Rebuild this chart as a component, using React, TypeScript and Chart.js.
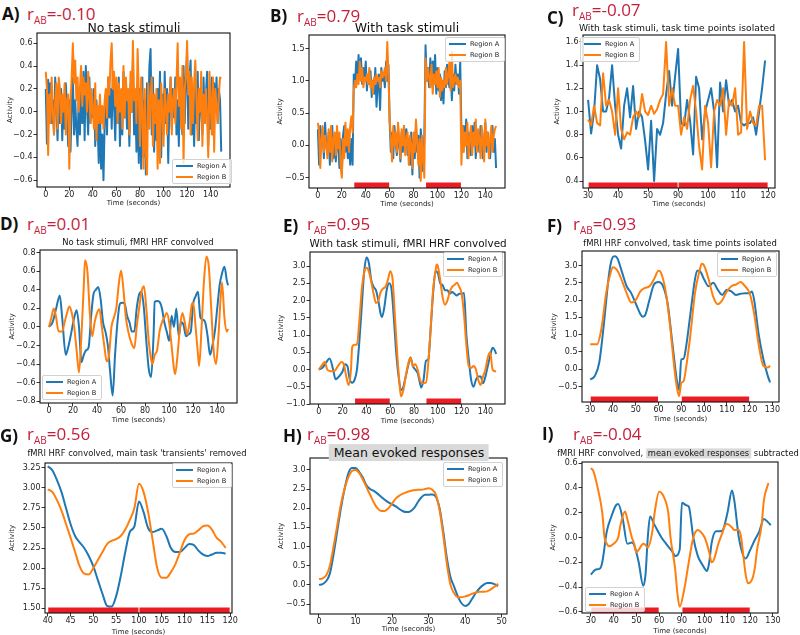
import React, { useEffect, useRef } from 'react';
import { Chart, registerables } from 'chart.js';

Chart.register(...registerables);
Chart.defaults.font.family = '"DejaVu Sans", sans-serif';

// ---------------- data ----------------
// Panel A: no task stimuli (time 0..149 s)
const panelA_regionA = [
  0.2, -0.28, 0.28, 0.15, 0.25, -0.1, 0.1, -0.2, 0.3, 0.05,
  -0.25, 0.15, -0.1, 0.2, -0.25, 0.1, -0.15, 0.25, 0.05, -0.3,
  0.1, -0.35, 0.05, 0.3, -0.2, 0.1, -0.15, -0.3, 0.15, -0.2,
  0.3, -0.1, 0.35, -0.25, 0.4, 0.05, -0.2, 0.3, -0.1, 0.15,
  -0.05, 0.2, -0.3, 0.1, -0.1, -0.45, 0.05, -0.5, -0.2, -0.6,
  -0.1, 0.15, -0.2, 0.3, -0.05, 0.2, -0.15, 0.35, 0.05, -0.25,
  0.2, -0.1, 0.3, -0.3, 0.1, -0.2, 0.35, -0.05, 0.2, -0.15,
  0.1, -0.3, 0.25, 0.0, 0.45, -0.2, 0.15, -0.35, 0.1, -0.45,
  0.2, -0.5, 0.3, -0.4, 0.1, -0.55, 0.25, -0.1, 0.4, 0.55,
  -0.2, 0.3, -0.35, 0.1, -0.25, 0.2, -0.1, 0.35, -0.4, 0.15,
  -0.2, 0.35, -0.1, 0.2, -0.45, 0.1, 0.3, -0.15, 0.2, -0.05,
  0.3, -0.2, 0.1, -0.3, 0.25, 0.05, -0.2, 0.4, -0.1, 0.3,
  0.5, -0.15, 0.3, 0.45, -0.2, 0.1, -0.3, 0.25, -0.1, 0.35,
  -0.25, 0.2, 0.05, -0.2, 0.3, -0.1, 0.15, 0.35, -0.3, 0.1,
  -0.15, 0.3, -0.2, 0.25, 0.0, 0.3, -0.1, 0.2, 0.1, -0.35,
];
const panelA_regionB = [
  0.35, 0.2, -0.38, 0.15, -0.1, 0.3, 0.0, -0.2, 0.1, 0.25,
  -0.15, 0.3, 0.2, -0.1, 0.15, 0.0, 0.25, -0.2, 0.1, 0.15,
  -0.5, 0.1, 0.3, 0.6, 0.25, 0.45, 0.1, 0.3, 0.0, 0.2,
  0.4, 0.05, 0.3, 0.15, 0.25, 0.0, 0.35, 0.15, -0.1, 0.2,
  0.0, -0.15, 0.25, -0.25, 0.05, -0.1, 0.15, -0.1, 0.05, -0.15,
  0.1, 0.2, -0.05, 0.3, 0.15, 0.45, 0.6, 0.2, 0.35, 0.05,
  0.3, -0.1, 0.25, 0.0, 0.2, -0.15, 0.4, -0.05, 0.3, 0.1,
  0.2, -0.2, 0.35, 0.0, 0.62, 0.1, 0.2, -0.1, 0.55, 0.15,
  -0.3, 0.3, 0.0, -0.5, 0.2, -0.35, -0.55, 0.25, -0.15, 0.1,
  0.3, -0.3, 0.15, -0.1, 0.2, -0.5, 0.1, -0.45, 0.25, 0.0,
  -0.3, 0.2, 0.05, -0.2, 0.15, 0.0, 0.3, -0.2, 0.1, 0.2,
  -0.1, 0.25, 0.6, 0.05, 0.3, -0.15, 0.4, -0.45, 0.2, 0.3,
  0.62, 0.15, 0.35, -0.2, 0.3, -0.1, 0.25, 0.45, 0.1, -0.25,
  0.2, 0.0, 0.35, -0.3, 0.15, -0.1, 0.2, -0.05, -0.4, 0.35,
  0.1, -0.2, 0.3, -0.35, 0.2, 0.05, -0.1, 0.15, 0.3, 0.29,
];

// Panel B: with task stimuli (time 0..149 s)
const panelB_regionA = [
  0.25, -0.3, 0.3, 0.1, 0.2, -0.2, 0.35, 0.0, -0.1, 0.2,
  -0.3, 0.15, 0.3, -0.2, 0.1, -0.25, 0.2, 0.0, -0.35, 0.1,
  -0.45, 0.15, 0.3, -0.1, 0.2, -0.2, 0.05, -0.3, 0.1, -0.3,
  1.1, 0.9, 1.3, 1.0, 1.4, 1.1, 1.35, 0.95, 1.2, 1.05,
  1.3, 0.85, 1.1, 0.95, 1.15, 0.75, 1.0, 0.8, 1.2, 0.6,
  0.9, 1.1, 0.55, 1.2, 1.0, 1.1, 0.9, 1.3, 1.0, 1.25,
  0.35, -0.1, 0.2, -0.2, 0.3, 0.05, -0.15, 0.25, 0.0, -0.25,
  0.2, -0.1, 0.3, 0.05, 0.25, -0.15, 0.1, -0.3, 0.2, -0.45,
  0.1, -0.2, 0.3, -0.1, 0.15, -0.5, 0.25, 0.0, -0.4, 0.15,
  1.55, 1.0, 1.2, 0.9, 1.35, 0.95, 1.3, 1.05, 1.4, 0.8,
  1.2, 0.85, 1.1, 0.7, 1.0, 0.65, 1.15, 0.9, 1.25, 1.05,
  0.9, 1.2, 0.7, 1.1, 0.85, 1.25, 0.95, 1.1, 0.8, 1.3,
  0.25, -0.1, 0.3, 0.0, 0.4, -0.2, 0.2, 0.05, -0.15, 0.3,
  0.0, 0.35, -0.2, 0.15, 0.2, -0.1, 0.3, 0.05, -0.2, 0.1,
  0.35, -0.1, 0.2, 0.0, -0.2, 0.15, 0.3, -0.1, 0.1, -0.35,
];
const panelB_regionB = [
  0.35, 0.2, -0.35, 0.1, 0.3, -0.1, 0.15, 0.0, -0.2, 0.25,
  -0.1, 0.3, -0.25, 0.1, 0.2, -0.15, 0.3, -0.05, 0.2, -0.3,
  -0.5, 0.1, -0.2, 0.35, 0.0, 0.25, -0.1, 0.3, 0.45, 0.2,
  0.85, 1.0, 0.9, 1.1, 0.95, 1.3, 1.0, 1.2, 0.9, 1.05,
  1.0, 1.1, 0.95, 1.2, 0.9, 1.0, 0.8, 1.05, 0.95, 1.1,
  1.0, 1.05, 0.9, 1.15, 1.05, 1.1, 1.2, 1.0, 1.6, 1.1,
  0.4, 0.1, -0.25, 0.3, 0.0, 0.2, -0.1, 0.35, 0.1, -0.2,
  0.25, 0.0, 0.3, -0.15, 0.1, 0.2, -0.3, 0.15, 0.0, -0.35,
  0.2, -0.1, 0.4, 0.05, -0.3, 0.1, -0.55, 0.15, -0.2, -0.5,
  1.35, 1.0, 1.2, 1.05, 0.9, 1.25, 0.8, 1.1, 0.95, 1.15,
  0.9, 1.2, 0.75, 1.05, 0.85, 1.0, 0.9, 1.2, 0.95, 1.1,
  1.3, 0.85, 1.45, 0.9, 1.0, 1.1, 0.95, 1.05, 0.9, 1.0,
  -0.3, 0.3, -0.1, 0.2, 0.0, 0.35, -0.2, 0.1, 0.3, -0.15,
  0.2, 0.0, 0.4, -0.1, 0.25, 0.1, -0.2, 0.3, 0.05, -0.25,
  0.4, 0.0, 0.2, -0.2, 0.1, 0.3, -0.1, 0.15, 0.25, 0.3,
];

// Panel C: task time points isolated (index 0..59)
const panelC_regionA = [
  1.1, 0.81, 1.0, 1.4, 1.28, 1.0, 1.0, 1.12, 1.4, 1.05,
  0.8, 0.68, 1.05, 1.2, 0.95, 1.22, 0.85, 1.0, 0.95, 0.75,
  0.5, 0.92, 0.4, 0.85, 0.8, 0.9, 1.15, 1.35, 1.05, 1.3,
  1.54, 0.9, 0.88, 1.1, 0.92, 0.63, 1.3, 1.2, 0.76, 1.0,
  1.1, 1.2, 1.0, 0.52, 1.25, 1.0, 1.27, 1.05, 1.1, 1.0,
  1.05, 0.9, 0.88, 0.9, 0.9, 0.95, 0.8, 1.0, 1.2, 1.44,
];
const panelC_regionB = [
  0.93, 0.88, 1.05, 0.9, 0.88, 1.33, 1.05, 1.1, 1.0, 0.8,
  1.2, 0.85, 0.76, 0.82, 0.8, 0.95, 1.0, 0.95, 1.15, 1.0,
  0.97, 1.05, 0.98, 1.02, 1.1, 1.15, 1.6, 1.05, 1.2, 1.05,
  1.05, 0.8, 0.95, 0.85, 1.1, 1.22, 1.0, 0.7, 0.5, 1.05,
  0.9, 0.52, 1.0, 1.1, 1.05, 1.2, 0.8, 1.1, 1.05, 1.2,
  0.8, 0.82, 1.6, 0.85, 1.0, 0.9, 0.88, 1.05, 1.05, 0.58,
];

// Panel D: no task, HRF convolved ([time, value])
const panelD_regionA: [number, number][] = [
  [0, 0.0], [3, 0.05], [6, 0.2], [9, 0.34], [11, 0.1], [14, -0.3], [16, -0.22], [18, -0.1],
  [21, 0.1], [23, 0.18], [25, 0.0], [27, -0.38], [29, -0.3], [31, -0.25], [33, -0.22], [35, 0.1],
  [37, 0.35], [39, 0.4], [41, 0.43], [43, 0.3], [45, 0.05], [47, -0.05], [49, -0.2], [51, -0.5],
  [53, -0.74], [55, -0.3], [57, 0.05], [59, 0.25], [61, 0.26], [63, 0.25], [65, 0.12], [67, 0.05],
  [69, -0.05], [71, -0.05], [73, 0.2], [75, 0.35], [77, 0.38], [79, 0.2], [81, -0.15], [83, -0.45],
  [85, -0.54], [87, -0.1], [88, 0.27], [90, 0.28], [92, 0.27], [94, 0.2], [96, 0.05], [98, -0.05],
  [100, -0.15], [102, 0.12], [104, 0.0], [106, 0.2], [108, -0.1], [110, 0.05], [112, 0.02], [114, -0.1],
  [116, -0.08], [118, -0.05], [120, 0.25], [122, 0.33], [124, 0.38], [126, 0.1], [128, 0.08], [130, 0.05],
  [132, -0.1], [134, -0.3], [136, -0.2], [138, -0.05], [140, 0.2], [142, 0.45], [144, 0.58], [146, 0.65],
  [148, 0.5], [149, 0.45],
];
const panelD_regionB: [number, number][] = [
  [0, 0.0], [2, 0.1], [4, 0.2], [6, 0.1], [8, -0.05], [11, -0.05], [13, 0.05], [15, 0.15],
  [17, 0.22], [19, 0.15], [21, 0.0], [23, -0.25], [25, -0.49], [27, -0.1], [29, 0.45], [30, 0.72],
  [32, 0.6], [34, 0.15], [36, -0.1], [38, 0.05], [40, 0.15], [42, 0.19], [44, 0.0], [46, -0.2],
  [48, -0.37], [50, -0.3], [52, 0.0], [54, 0.1], [56, 0.2], [58, 0.45], [60, 0.61], [62, 0.4],
  [64, 0.1], [66, -0.05], [68, -0.15], [71, -0.23], [73, 0.0], [75, 0.2], [77, 0.38], [79, 0.44],
  [81, 0.2], [83, -0.15], [85, -0.35], [86, -0.4], [88, -0.3], [90, -0.25], [92, -0.05], [94, 0.05],
  [96, 0.1], [98, 0.15], [100, 0.05], [102, -0.2], [104, -0.45], [105, -0.51], [107, -0.3], [109, 0.0],
  [111, 0.15], [113, 0.05], [115, -0.08], [117, 0.05], [119, 0.25], [120, 0.26], [122, 0.0], [124, -0.3],
  [125, -0.42], [127, 0.0], [129, 0.5], [131, 0.76], [133, 0.65], [135, 0.2], [137, -0.25], [139, -0.4],
  [141, -0.1], [143, 0.35], [144, 0.48], [146, 0.1], [148, -0.05], [149, -0.02],
];

// Panel E: task, HRF convolved ([time, value])
const panelE_regionA: [number, number][] = [
  [0, 0.0], [3, 0.05], [6, 0.2], [9, 0.32], [12, 0.0], [14, -0.28], [17, -0.2], [20, -0.05],
  [22, 0.15], [24, 0.1], [26, -0.3], [28, -0.38], [30, -0.3], [32, 0.0], [34, 0.8], [36, 1.8],
  [38, 2.8], [40, 3.25], [42, 3.1], [44, 2.6], [46, 2.4], [48, 2.3], [50, 2.0], [52, 1.6],
  [53, 1.52], [55, 1.8], [57, 2.3], [59, 2.5], [61, 2.35], [63, 1.5], [65, 0.5], [67, -0.2],
  [69, -0.6], [71, -0.5], [73, -0.2], [75, 0.1], [77, 0.35], [79, 0.1], [81, 0.0], [83, -0.1],
  [85, -0.4], [86, -0.52], [88, -0.3], [90, 0.25], [92, 0.3], [94, 1.2], [96, 2.2], [98, 2.85],
  [100, 2.8], [102, 2.5], [104, 2.45], [106, 2.3], [108, 2.3], [110, 2.2], [112, 2.25], [114, 2.2],
  [116, 2.15], [118, 2.2], [120, 2.2], [122, 2.22], [124, 1.0], [126, 0.3], [128, -0.3], [130, -0.5],
  [132, -0.3], [134, -0.2], [136, -0.2], [138, -0.4], [140, -0.2], [142, 0.1], [144, 0.4], [146, 0.63],
  [148, 0.55], [149, 0.45],
];
const panelE_regionB: [number, number][] = [
  [0, 0.0], [3, 0.15], [5, 0.22], [7, 0.0], [10, -0.05], [13, -0.05], [16, 0.1], [19, 0.22],
  [21, 0.15], [23, -0.2], [25, -0.45], [27, 0.0], [28, 0.65], [30, 0.72], [32, 0.72], [34, 1.4],
  [36, 2.3], [38, 2.8], [40, 2.95], [42, 2.85], [44, 2.55], [46, 2.2], [48, 1.93], [50, 2.0],
  [52, 2.25], [54, 2.35], [56, 2.4], [58, 2.6], [60, 2.85], [62, 2.6], [64, 1.5], [66, 0.4],
  [68, -0.5], [69, -0.78], [71, -0.6], [73, -0.2], [75, 0.15], [77, 0.35], [79, 0.1], [81, 0.15],
  [83, 0.0], [85, -0.3], [87, -0.4], [90, -0.38], [92, 0.2], [94, 1.2], [96, 2.3], [98, 2.85],
  [99, 3.05], [100, 3.0], [102, 2.6], [104, 2.1], [106, 1.88], [108, 2.0], [110, 2.25], [112, 2.4],
  [114, 2.45], [116, 2.52], [118, 2.4], [120, 2.2], [122, 1.6], [124, 0.7], [126, 0.1], [128, 0.05],
  [130, 0.1], [132, 0.0], [134, -0.3], [136, -0.45], [138, -0.2], [140, 0.0], [142, 0.35], [144, 0.5],
  [146, 0.0], [148, -0.05], [149, -0.05],
];

// Panel F: HRF convolved, task points isolated ([index, value])
const panelF_regionA: [number, number][] = [
  [0, -0.3], [2, -0.2], [4, 0.2], [6, 1.3], [8, 2.6], [9, 3.05], [10, 3.25], [11, 3.27],
  [12, 3.2], [14, 2.8], [16, 2.4], [18, 2.2], [20, 1.9], [22, 1.6], [23, 1.52], [24, 1.55],
  [26, 2.0], [28, 2.45], [30, 2.52], [32, 2.4], [34, 1.9], [36, 0.8], [38, -0.3], [39, -0.6],
  [40, 0.28], [41, 0.3], [42, 0.6], [44, 1.6], [46, 2.6], [47, 2.85], [48, 2.85], [50, 2.6],
  [52, 2.4], [54, 2.5], [56, 2.3], [58, 2.15], [60, 2.3], [62, 2.25], [64, 2.15], [66, 2.18],
  [68, 2.2], [70, 2.2], [71, 2.25], [72, 2.0], [74, 1.0], [76, 0.3], [78, -0.2], [79, -0.38],
];
const panelF_regionB: [number, number][] = [
  [0, 0.72], [3, 0.72], [5, 1.2], [7, 2.2], [9, 2.8], [10, 2.95], [12, 2.85], [14, 2.55],
  [16, 2.2], [18, 1.93], [20, 2.0], [22, 2.25], [24, 2.35], [26, 2.4], [28, 2.6], [30, 2.85],
  [31, 2.8], [33, 2.3], [35, 1.3], [37, 0.0], [38, -0.5], [39, -0.78], [40, -0.4], [41, -0.35],
  [42, 0.0], [44, 1.0], [46, 2.2], [48, 2.85], [49, 3.05], [50, 3.0], [52, 2.6], [54, 2.1],
  [56, 1.88], [58, 2.0], [60, 2.25], [62, 2.4], [64, 2.45], [66, 2.52], [68, 2.4], [70, 2.2],
  [72, 1.6], [74, 0.7], [76, 0.1], [78, 0.05], [79, 0.1],
];

// Panel G: transients removed (index 0..39)
const panelG_regionA = [
  3.27, 3.22, 3.1, 2.95, 2.75, 2.55, 2.4, 2.32, 2.25, 2.15,
  2.02, 1.85, 1.68, 1.53, 1.52, 1.65, 1.9, 2.2, 2.45, 2.52,
  2.83, 2.7, 2.5, 2.45, 2.47, 2.49, 2.4, 2.25, 2.2, 2.2,
  2.25, 2.3, 2.29, 2.22, 2.17, 2.15, 2.17, 2.19, 2.19, 2.18,
];
const panelG_regionB = [
  2.98, 2.95, 2.85, 2.72, 2.55, 2.38, 2.2, 2.02, 1.93, 1.92,
  2.0, 2.1, 2.2, 2.3, 2.34, 2.36, 2.4, 2.48, 2.6, 2.75,
  3.05, 2.95, 2.7, 2.35, 2.0, 1.88, 1.88, 1.95, 2.05, 2.2,
  2.35, 2.42, 2.43, 2.47, 2.52, 2.53, 2.48, 2.38, 2.33, 2.25,
];

// Panel H: mean evoked responses (time 0..49 s)
const panelH_regionA = [
  0.0, 0.02, 0.1, 0.3, 0.8, 1.4, 2.0, 2.5, 2.9, 3.05,
  3.05, 2.95, 2.8, 2.6, 2.5, 2.45, 2.38, 2.3, 2.22, 2.15,
  2.1, 2.05, 1.98, 1.92, 1.9, 1.92, 2.0, 2.15, 2.28, 2.35,
  2.35, 2.36, 2.3, 2.0, 1.4, 0.7, 0.2, -0.05, -0.3, -0.48,
  -0.55, -0.5, -0.35, -0.2, -0.08, 0.0, 0.05, 0.05, 0.02, -0.03,
];
const panelH_regionB = [
  0.15, 0.17, 0.25, 0.5, 1.0, 1.55, 2.1, 2.5, 2.8, 2.97,
  3.0, 2.92, 2.75, 2.55, 2.35, 2.15, 2.0, 1.93, 1.93, 2.0,
  2.12, 2.25, 2.33, 2.38, 2.42, 2.45, 2.47, 2.48, 2.48, 2.5,
  2.52, 2.48, 2.35, 1.95, 1.3, 0.55, 0.0, -0.22, -0.32, -0.32,
  -0.3, -0.27, -0.23, -0.2, -0.18, -0.18, -0.17, -0.12, -0.05, 0.03,
];

// Panel I: mean evoked responses subtracted ([index, value])
const panelI_regionA: [number, number][] = [
  [0, -0.3], [2, -0.26], [4, -0.25], [5, -0.2], [7, 0.05], [9, 0.17], [11, 0.26], [12, 0.27],
  [14, 0.15], [16, -0.05], [18, -0.04], [19, -0.06], [21, -0.2], [23, -0.39], [24, -0.3], [25, 0.0],
  [26, 0.17], [28, 0.1], [31, 0.0], [33, -0.05], [36, -0.12], [37, -0.15], [39, -0.1], [40, 0.28],
  [42, 0.26], [43, 0.25], [45, 0.0], [47, -0.15], [49, -0.22], [51, -0.27], [52, -0.2], [53, -0.05],
  [55, 0.05], [57, 0.05], [58, 0.06], [60, 0.2], [62, 0.38], [63, 0.3], [65, 0.0], [68, -0.17],
  [70, -0.1], [72, -0.02], [74, 0.05], [76, 0.15], [78, 0.12], [79, 0.1],
];
const panelI_regionB: [number, number][] = [
  [0, 0.56], [1, 0.54], [3, 0.4], [5, 0.2], [6, 0.0], [7, -0.05], [8, -0.07], [10, -0.05],
  [12, 0.0], [13, 0.1], [15, 0.21], [16, 0.15], [18, 0.0], [19, -0.05], [20, -0.12], [21, -0.1],
  [23, -0.05], [24, -0.06], [25, -0.08], [27, 0.05], [28, 0.2], [30, 0.37], [32, 0.33], [34, 0.2],
  [35, 0.0], [37, -0.25], [38, -0.45], [39, -0.56], [41, -0.42], [43, -0.2], [45, 0.0], [47, 0.06],
  [48, 0.05], [50, 0.0], [52, -0.12], [53, -0.2], [54, -0.18], [56, -0.05], [58, 0.05], [59, 0.1],
  [60, 0.11], [62, 0.08], [63, 0.06], [65, 0.06], [66, 0.0], [67, -0.15], [68, -0.3], [69, -0.37],
  [71, -0.33], [72, -0.25], [73, -0.1], [75, 0.1], [76, 0.3], [78, 0.44],
];

// Task blocks (x extents on each panel's own axis)
const tasksTime: [number, number][] = [[30, 60], [90, 120]];
const tasksC: [number, number][] = [[0, 30], [30, 60]];
const tasksFI: [number, number][] = [[0, 30], [40, 70]];
const tasksG: [number, number][] = [[0, 20], [20, 40]];

// Tick values and labels
const xTicksTime = [0, 20, 40, 60, 80, 100, 120, 140];
const xTicksH = [0, 10, 20, 30, 40, 50];
const xTicksC = [0, 10, 20, 30, 40, 50, 60];
const xLabelsC = ['30', '40', '50', '90', '100', '110', '120'];
const xTicksFI = [0, 10, 20, 30, 40, 50, 60, 70, 80];
const xLabelsFI = ['30', '40', '50', '60', '90', '100', '110', '120', '130'];
const xTicksG = [0, 5, 10, 15, 20, 25, 30, 35, 40];
const xLabelsG = ['40', '45', '50', '55', '100', '105', '110', '115', '120'];

const yTicksA = [-0.6, -0.4, -0.2, 0, 0.2, 0.4, 0.6];
const yTicksB = [-0.5, 0, 0.5, 1.0, 1.5];
const yTicksC = [0.4, 0.6, 0.8, 1.0, 1.2, 1.4, 1.6];
const yTicksD = [-0.8, -0.6, -0.4, -0.2, 0, 0.2, 0.4, 0.6, 0.8];
const yTicksE = [-1.0, -0.5, 0, 0.5, 1.0, 1.5, 2.0, 2.5, 3.0];
const yTicksFH = [-0.5, 0, 0.5, 1.0, 1.5, 2.0, 2.5, 3.0];
const yTicksG = [1.5, 1.75, 2.0, 2.25, 2.5, 2.75, 3.0, 3.25];
const yTicksI = [-0.6, -0.4, -0.2, 0, 0.2, 0.4, 0.6];

// ---------------- styling / layout ----------------
const BLUE = '#1f77b4';
const ORANGE = '#ff7f0e';
const HEAD_RED = '#c41e3a';
const TASK_RED = '#ec1c24';
const YW = 42;
const TP = 6;
const RP = 8;

type Pt = { x: number; y: number };
const fromValues = (v: number[]): Pt[] => v.map((y, i) => ({ x: i, y }));
const fromPairs = (v: [number, number][]): Pt[] => v.map(([x, y]) => ({ x, y }));

type TitleSeg = { text: string; hl?: boolean };
type Panel = {
  letter: string; r: string;
  letterPos: [number, number]; rPos: [number, number];
  title: TitleSeg[]; titleSize: number; titleCenter: [number, number];
  plot: [number, number, number, number];
  xAxisH: number; yTitleGap: number;
  xRange: [number, number]; yRange: [number, number];
  xTicks: number[]; xLabels?: string[];
  yTicks: number[]; yDec: number;
  a: Pt[]; b: Pt[]; smooth: boolean;
  tasks: [number, number][];
  legend: [number, number];
};

const panels: Panel[] = [
  {
    letter: 'A)', r: '=-0.10', letterPos: [2, 5], rPos: [27, 5],
    title: [{ text: 'No task stimuli' }], titleSize: 12.5, titleCenter: [134, 28],
    plot: [37, 33, 230, 187], xAxisH: 22, yTitleGap: 27,
    xRange: [-7.45, 156.45], yRange: [-0.66, 0.69],
    xTicks: xTicksTime, yTicks: yTicksA, yDec: 1,
    a: fromValues(panelA_regionA), b: fromValues(panelA_regionB), smooth: false,
    tasks: [], legend: [172, 159],
  },
  {
    letter: 'B)', r: '=0.79', letterPos: [270, 7], rPos: [297, 7],
    title: [{ text: 'With task stimuli' }], titleSize: 12.5, titleCenter: [407, 28],
    plot: [309, 35, 505, 188], xAxisH: 22, yTitleGap: 29,
    xRange: [-7.45, 156.45], yRange: [-0.66, 1.71],
    xTicks: xTicksTime, yTicks: yTicksB, yDec: 1,
    a: fromValues(panelB_regionA), b: fromValues(panelB_regionB), smooth: false,
    tasks: tasksTime, legend: [445, 37],
  },
  {
    letter: 'C)', r: '=-0.07', letterPos: [547, 9], rPos: [572, 1],
    title: [{ text: 'With task stimuli, task time points isolated' }], titleSize: 9.2, titleCenter: [677, 28],
    plot: [583, 35, 775, 188], xAxisH: 22, yTitleGap: 26,
    xRange: [-1.7, 62.3], yRange: [0.34, 1.66],
    xTicks: xTicksC, xLabels: xLabelsC, yTicks: yTicksC, yDec: 1,
    a: fromValues(panelC_regionA), b: fromValues(panelC_regionB), smooth: false,
    tasks: tasksC, legend: [580, 37],
  },
  {
    letter: 'D)', r: '=0.01', letterPos: [0, 215], rPos: [27, 215],
    title: [{ text: 'No task stimuli, fMRI HRF convolved' }], titleSize: 8.4, titleCenter: [138, 243],
    plot: [40, 250, 237, 403], xAxisH: 23, yTitleGap: 28,
    xRange: [-7.45, 156.45], yRange: [-0.82, 0.83],
    xTicks: xTicksTime, yTicks: yTicksD, yDec: 1,
    a: fromPairs(panelD_regionA), b: fromPairs(panelD_regionB), smooth: true,
    tasks: [], legend: [42, 375],
  },
  {
    letter: 'E)', r: '=0.95', letterPos: [283, 217], rPos: [307, 215],
    title: [{ text: 'With task stimuli, fMRI HRF convolved' }], titleSize: 10.4, titleCenter: [408, 243.5],
    plot: [310, 252, 505, 404], xAxisH: 23, yTitleGap: 29,
    xRange: [-7.45, 156.45], yRange: [-1.0, 3.41],
    xTicks: xTicksTime, yTicks: yTicksE, yDec: 1,
    a: fromPairs(panelE_regionA), b: fromPairs(panelE_regionB), smooth: true,
    tasks: tasksTime, legend: [443, 252],
  },
  {
    letter: 'F)', r: '=0.93', letterPos: [547, 217], rPos: [573, 215],
    title: [{ text: 'fMRI HRF convolved, task time points isolated' }], titleSize: 8.45, titleCenter: [680, 243.5],
    plot: [582, 251, 779, 402], xAxisH: 23, yTitleGap: 28,
    xRange: [-3.6, 82.9], yRange: [-0.95, 3.42],
    xTicks: xTicksFI, xLabels: xLabelsFI, yTicks: yTicksFH, yDec: 1,
    a: fromPairs(panelF_regionA), b: fromPairs(panelF_regionB), smooth: true,
    tasks: tasksFI, legend: [717, 252],
  },
  {
    letter: 'G)', r: '=0.56', letterPos: [0, 427], rPos: [27, 425],
    title: [{ text: "fMRI HRF convolved, main task 'transients' removed" }], titleSize: 8.4, titleCenter: [137, 454],
    plot: [45, 463, 232, 613], xAxisH: 25, yTitleGap: 33,
    xRange: [-0.6, 40.4], yRange: [1.44, 3.31],
    xTicks: xTicksG, xLabels: xLabelsG, yTicks: yTicksG, yDec: 2,
    a: fromValues(panelG_regionA), b: fromValues(panelG_regionB), smooth: true,
    tasks: tasksG, legend: [172, 463],
  },
  {
    letter: 'H)', r: '=0.98', letterPos: [283, 427], rPos: [307, 425],
    title: [{ text: 'Mean evoked responses', hl: true }], titleSize: 12.5, titleCenter: [409, 452.5],
    plot: [310, 458, 507, 614], xAxisH: 21, yTitleGap: 29,
    xRange: [-2.45, 51.45], yRange: [-0.76, 3.31],
    xTicks: xTicksH, yTicks: yTicksFH, yDec: 1,
    a: fromValues(panelH_regionA), b: fromValues(panelH_regionB), smooth: true,
    tasks: [], legend: [443, 462],
  },
  {
    letter: 'I)', r: '=-0.04', letterPos: [542, 425], rPos: [573, 425],
    title: [{ text: 'fMRI HRF convolved, ' }, { text: 'mean evoked responses', hl: true }, { text: ' subtracted' }],
    titleSize: 8.35, titleCenter: [678, 454],
    plot: [582, 462, 778, 613], xAxisH: 24, yTitleGap: 29,
    xRange: [-3.9, 82.2], yRange: [-0.61, 0.61],
    xTicks: xTicksFI, xLabels: xLabelsFI, yTicks: yTicksI, yDec: 1,
    a: fromPairs(panelI_regionA), b: fromPairs(panelI_regionB), smooth: true,
    tasks: tasksFI, legend: [585, 587],
  },
];

const fmtY = (v: number, dec: number) => {
  const s = Math.abs(v).toFixed(dec);
  return v < -1e-9 ? '\u2212' + s : s;
};

function PanelChart({ p }: { p: Panel }) {
  const ref = useRef<HTMLCanvasElement | null>(null);
  const [l, t, r, b] = p.plot;
  const W = r - l + YW + RP;
  const H = b - t + TP + p.xAxisH;

  useEffect(() => {
    if (!ref.current) return;
    const tickFont = { family: '"DejaVu Sans"', size: 8 };
    const titleFont = { family: '"DejaVu Sans"', size: 7 };
    const lineDs = (data: Pt[], color: string) => ({
      data,
      borderColor: color,
      backgroundColor: color,
      borderWidth: 2,
      pointRadius: 0,
      fill: false,
      borderJoinStyle: 'round' as const,
      tension: p.smooth ? 0.4 : 0,
      cubicInterpolationMode: p.smooth ? ('monotone' as const) : ('default' as const),
    });
    const overlay = {
      id: 'overlay' + p.letter,
      afterDatasetsDraw(chart: any) {
        const { ctx, chartArea, scales } = chart;
        ctx.save();
        ctx.fillStyle = TASK_RED;
        p.tasks.forEach(([x1, x2]) => {
          const px1 = scales.x.getPixelForValue(x1);
          const px2 = scales.x.getPixelForValue(x2);
          ctx.fillRect(px1 + 0.5, chartArea.bottom - 5.5, px2 - px1 - 1, 5.5);
        });
        ctx.restore();
      },
      afterDraw(chart: any) {
        const { ctx, chartArea } = chart;
        ctx.save();
        ctx.strokeStyle = '#111';
        ctx.lineWidth = 1.1;
        ctx.strokeRect(chartArea.left, chartArea.top, chartArea.right - chartArea.left, chartArea.bottom - chartArea.top);
        ctx.restore();
      },
    };
    const chart = new Chart(ref.current, {
      type: 'line',
      data: { datasets: [lineDs(p.b, ORANGE), lineDs(p.a, BLUE)] as any },
      plugins: [overlay],
      options: {
        animation: false,
        responsive: false,
        events: [],
        layout: { padding: { left: 0, top: TP, right: RP, bottom: 0 } },
        plugins: { legend: { display: false }, tooltip: { enabled: false }, title: { display: false } },
        scales: {
          x: {
            type: 'linear',
            min: p.xRange[0],
            max: p.xRange[1],
            bounds: 'data',
            afterFit: (s: any) => { s.height = p.xAxisH; },
            afterBuildTicks: (s: any) => { s.ticks = p.xTicks.map((v) => ({ value: v })); },
            ticks: {
              autoSkip: false,
              maxRotation: 0,
              padding: 0,
              color: '#222',
              font: tickFont,
              callback: (v: any, i: number) => (p.xLabels ? p.xLabels[i] : String(v)),
            },
            grid: { display: true, drawOnChartArea: false, drawTicks: true, tickLength: 3.5, tickColor: '#333', tickWidth: 1 },
            border: { display: false },
            title: { display: true, text: 'Time (seconds)', color: '#222', font: titleFont, padding: { top: 0, bottom: 1.8 } },
          },
          y: {
            type: 'linear',
            min: p.yRange[0],
            max: p.yRange[1],
            bounds: 'data',
            afterFit: (s: any) => { s.width = YW; },
            afterBuildTicks: (s: any) => { s.ticks = p.yTicks.map((v) => ({ value: v })); },
            ticks: {
              autoSkip: false,
              padding: 1,
              color: '#222',
              font: tickFont,
              callback: (v: any) => fmtY(Number(v), p.yDec),
            },
            grid: { display: true, drawOnChartArea: false, drawTicks: true, tickLength: 3.5, tickColor: '#333', tickWidth: 1 },
            border: { display: false },
            title: { display: true, text: 'Activity', color: '#222', font: titleFont, padding: { top: YW - 4.2 - p.yTitleGap, bottom: 0 } },
          },
        },
      } as any,
    });
    return () => chart.destroy();
  }, []);

  return (
    <canvas
      ref={ref}
      width={W}
      height={H}
      style={{ position: 'absolute', left: l - YW, top: t - TP, width: W, height: H }}
    />
  );
}

function Legend({ pos }: { pos: [number, number] }) {
  const row = (color: string, label: string) => (
    <div style={{ display: 'flex', alignItems: 'center', height: 10.7 }}>
      <span style={{ display: 'inline-block', width: 17, height: 2, background: color, marginRight: 4 }} />
      <span>{label}</span>
    </div>
  );
  return (
    <div
      style={{
        position: 'absolute', left: pos[0], top: pos[1],
        border: '1px solid #d2d2d2', borderRadius: 2,
        background: 'rgba(255,255,255,0.8)',
        padding: '1px 5px 1px 3px',
        font: '6.6px "DejaVu Sans"', color: '#222', whiteSpace: 'nowrap',
      }}
    >
      {row(BLUE, 'Region A')}
      {row(ORANGE, 'Region B')}
    </div>
  );
}

function PanelText({ p }: { p: Panel }) {
  const hlOnly = p.title.length === 1 && p.title[0].hl;
  return (
    <>
      <div style={{ position: 'absolute', left: p.letterPos[0], top: p.letterPos[1], font: 'bold 17px "Open Sans"', lineHeight: '17px', color: '#111' }}>
        {p.letter}
      </div>
      <div style={{ position: 'absolute', left: p.rPos[0], top: p.rPos[1], font: '17px "Open Sans"', lineHeight: '17px', color: HEAD_RED, whiteSpace: 'nowrap' }}>
        r<sub style={{ fontSize: 10, verticalAlign: '-4px', lineHeight: 0 }}>AB</sub>{p.r}
      </div>
      <div
        style={{
          position: 'absolute', left: p.titleCenter[0], top: p.titleCenter[1],
          transform: 'translate(-50%, -50%)',
          font: `${p.titleSize}px "DejaVu Sans"`, lineHeight: 1.1, color: '#111', whiteSpace: 'nowrap',
        }}
      >
        {p.title.map((s, i) => (
          <span
            key={i}
            style={s.hl ? { background: '#d9d9d9', padding: hlOnly ? '1px 5px' : '0 2px' } : undefined}
          >
            {s.text}
          </span>
        ))}
      </div>
      <Legend pos={p.legend} />
    </>
  );
}

export default function App() {
  return (
    <div style={{ position: 'absolute', left: 0, top: 0, width: 800, height: 635, overflow: 'hidden', background: '#fff' }}>
      {panels.map((p) => (
        <PanelChart key={'c' + p.letter} p={p} />
      ))}
      {panels.map((p) => (
        <PanelText key={'t' + p.letter} p={p} />
      ))}
    </div>
  );
}
